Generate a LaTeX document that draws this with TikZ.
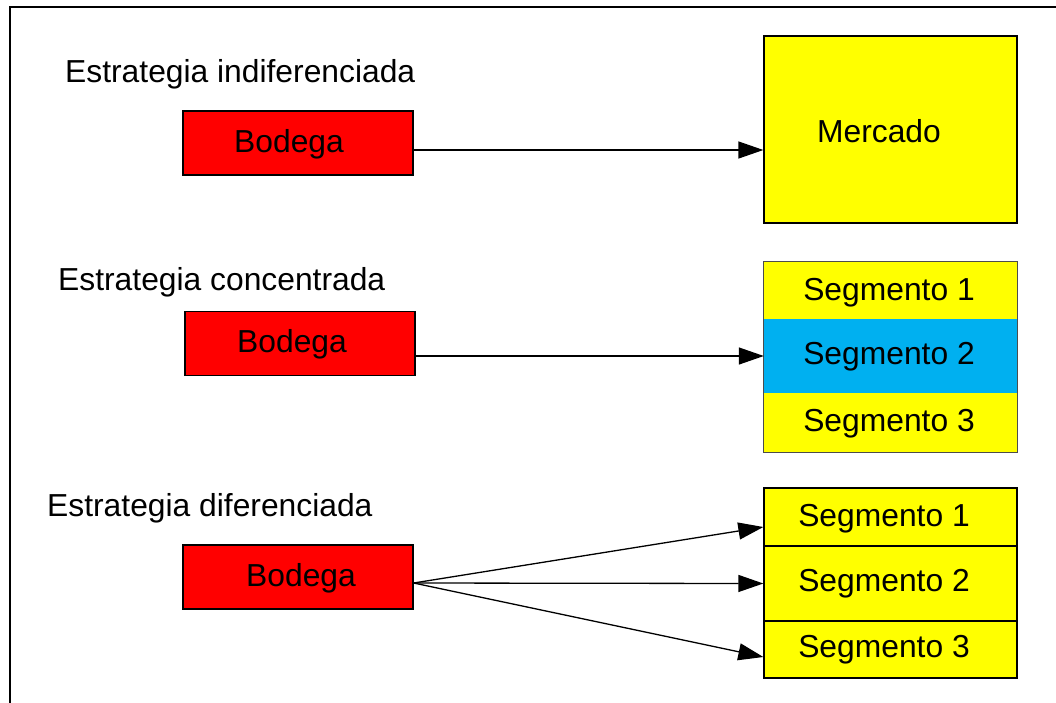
\documentclass[tikz,border=0pt]{standalone}
\usepackage{fontspec}
\setmainfont{Liberation Sans}
\usetikzlibrary{arrows.meta,calc}
\definecolor{segcyan}{RGB}{0,176,240}
\definecolor{segyellow}{RGB}{255,255,0}
\definecolor{boxred}{RGB}{255,0,0}
\tikzset{
  x=1pt, y=-1pt,
  every node/.style={font=\fontsize{31.8}{36}\selectfont, inner sep=0pt},
  label/.style={anchor=west},
  bodega/.style={draw=black, line width=1.3pt, fill=boxred, minimum width=230pt, minimum height=64pt},
  seg/.style={fill=segyellow, minimum width=253pt},
  segb/.style={seg, draw=black, line width=1.3pt},
  conn/.style={line width=1.3pt, -{Triangle[length=25pt,width=17pt]}},
}
\begin{document}
\begin{tikzpicture}
\useasboundingbox (0,0) rectangle (1056,702);
% frame
\draw[line width=2pt] (10,704) -- (10,7) -- (1058,7);

% strategy 1
\node[label] (t1) at (65,74) {Estrategia indiferenciada};
\node[bodega] (b1) at (298,143) {};
\node (b1t) at (289,144) {Bodega};
\node[draw=black, line width=1.3pt, fill=segyellow, minimum width=253pt, minimum height=187pt] (m) at (890.5,129.5) {};
\node (mt) at (879,131) {Mercado};
\draw[conn] ($(b1.east)+(0,7)$) -- (m.west |- {$(b1.east)+(0,7)$});

% strategy 2
\node[label] (t2) at (58,282) {Estrategia concentrada};
\node[bodega] (b2) at (300,343.5) {};
\node (b2t) at (292,344) {Bodega};
\node[seg, minimum height=57pt] (s21) at (890.5,290.5) {};
\node[seg, fill=segcyan, minimum height=74pt] (s22) at (890.5,356) {};
\node[seg, minimum height=59pt] (s23) at (890.5,422.5) {};
\node (s21t) at (889,293) {Segmento 1};
\node (s22t) at (889,357) {Segmento 2};
\node (s23t) at (889,424) {Segmento 3};
\draw[line width=0.8pt, black!70] (s21.north west) rectangle (s23.south east);
\draw[conn] ($(b2.east)+(0,12.5)$) -- (s22.west);

% strategy 3
\node[label] (t3) at (47,508) {Estrategia diferenciada};
\node[bodega] (b3) at (298,577) {};
\node (b3t) at (301,578) {Bodega};
\node[segb, minimum height=58pt] (s31) at (890.5,517) {};
\node[segb, minimum height=75pt] (s32) at (890.5,583.5) {};
\node[segb, minimum height=57pt] (s33) at (890.5,649.5) {};
\node (s31t) at (884,519) {Segmento 1};
\node (s32t) at (884,584) {Segmento 2};
\node (s33t) at (884,650) {Segmento 3};
\coordinate (o3) at ($(b3.east)+(0,6)$);
\draw[conn] (o3) -- ($(s31.west)+(0,10)$);
\draw[conn] (o3) -- (s32.west);
\draw[conn] (o3) -- ($(s33.west)+(0,7.5)$);
\end{tikzpicture}
\end{document}
